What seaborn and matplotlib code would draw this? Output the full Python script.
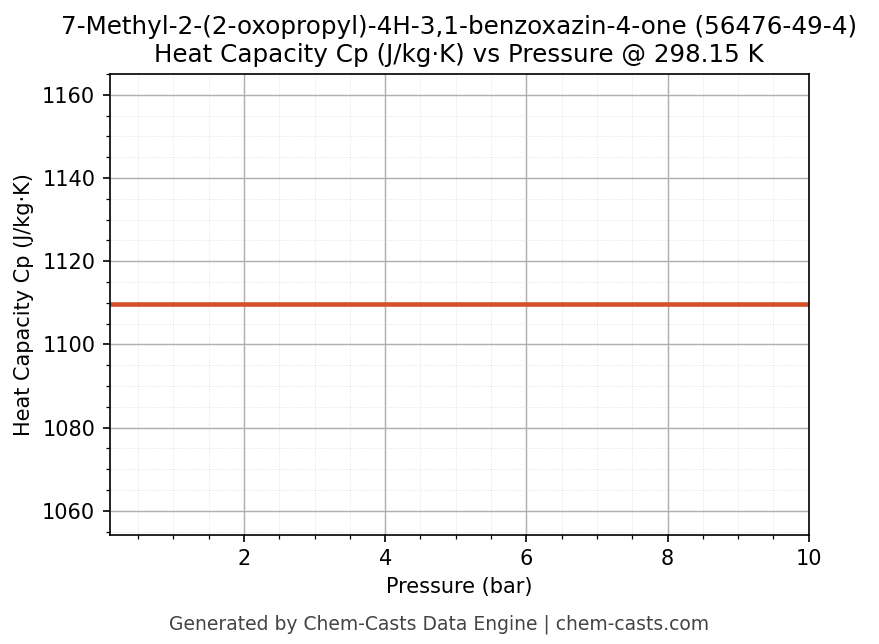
import numpy as np
import matplotlib
matplotlib.use("Agg")
import matplotlib.pyplot as plt
import seaborn as sns
from matplotlib.ticker import AutoMinorLocator

# data
pressure = [0.1, 1.0, 2.0, 3.0, 4.0, 5.0, 6.0, 7.0, 8.0, 9.0, 10.0]
cp = [1109.7] * len(pressure)

sns.set_style("ticks")
plt.rcParams['font.family'] = ['DejaVu Sans']
plt.rcParams['text.color'] = 'black'
plt.rcParams['axes.labelcolor'] = 'black'
plt.rcParams['xtick.color'] = 'black'
plt.rcParams['ytick.color'] = 'black'

fig, ax = plt.subplots(figsize=(879 / 150, 644 / 150), dpi=150)
sns.lineplot(x=pressure, y=cp, ax=ax, color="#d4502a", linewidth=2.2)

ax.set_xlim(0.1, 10)
ax.set_ylim(1054.3, 1165)
ax.xaxis.set_minor_locator(AutoMinorLocator())
ax.yaxis.set_minor_locator(AutoMinorLocator())
ax.grid(True, which="major", color="#b0b0b0", linewidth=0.7)
ax.grid(True, which="minor", color="#dddddd", linewidth=0.4, linestyle=":")
for s in ax.spines.values():
    s.set_visible(True)
    s.set_color("black")

ax.set_title("7-Methyl-2-(2-oxopropyl)-4H-3,1-benzoxazin-4-one (56476-49-4)\n"
             "Heat Capacity Cp (J/kg·K) vs Pressure @ 298.15 K", fontsize=11.8)
ax.set_xlabel("Pressure (bar)", fontsize=10)
ax.set_ylabel("Heat Capacity Cp (J/kg·K)", fontsize=10)
ax.tick_params(labelsize=10)

fig.subplots_adjust(left=0.125, right=0.92, top=0.885, bottom=0.17)
fig.text(0.5, 0.022, "Generated by Chem-Casts Data Engine | chem-casts.com",
         ha="center", fontsize=9, color="#444444")
fig.savefig("out.png", dpi=150)
